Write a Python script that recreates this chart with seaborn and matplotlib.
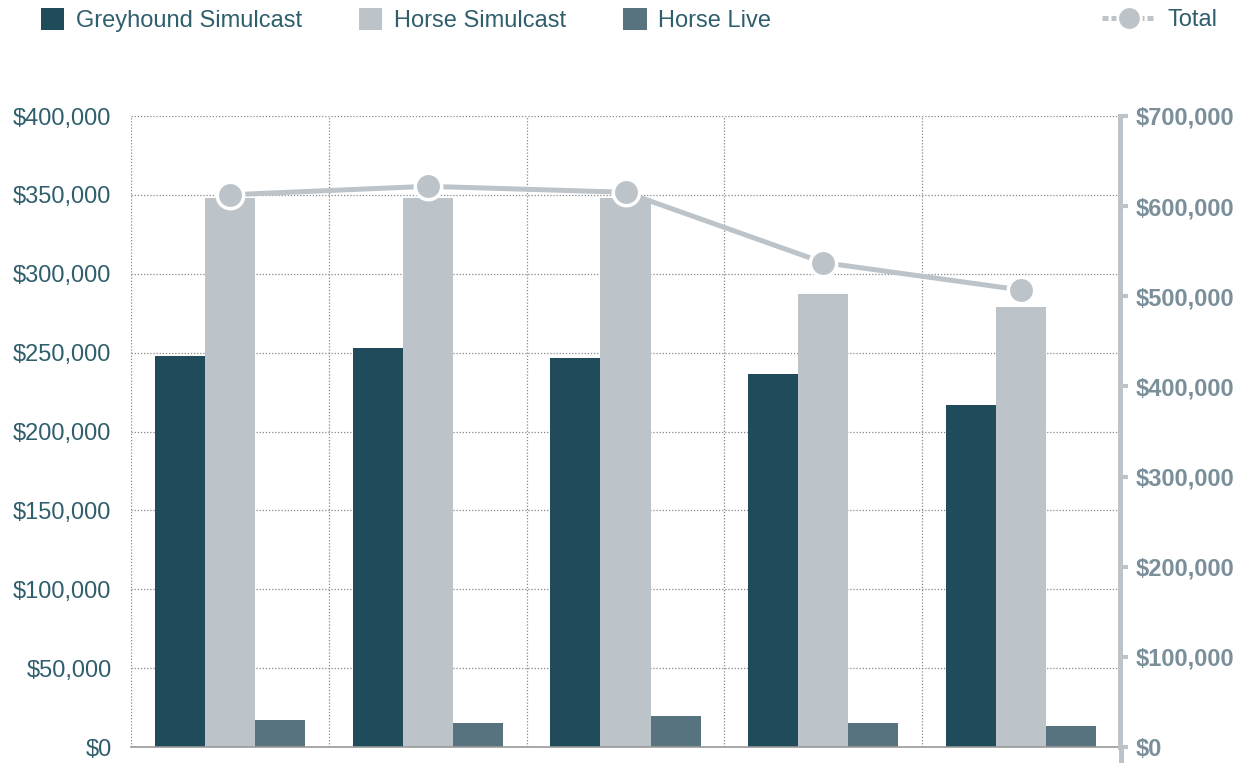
import numpy as np
import pandas as pd
import matplotlib.pyplot as plt
import seaborn as sns
from matplotlib.patches import Patch
from matplotlib.lines import Line2D
from matplotlib.ticker import FuncFormatter

# values
periods = ['P1', 'P2', 'P3', 'P4', 'P5']
greyhound_simulcast = [248000, 253000, 246600, 236500, 216800]
horse_simulcast = [348000, 348000, 348000, 287200, 278900]
horse_live = [17100, 15000, 19500, 15000, 13100]
total = [612600, 622000, 615400, 537400, 507000]

series_names = ['Greyhound Simulcast', 'Horse Simulcast', 'Horse Live']
series_colors = ['#1f4b5a', '#bcc4ca', '#56737f']
line_color = '#bcc4ca'

left_ticks = list(range(0, 400001, 50000))
right_ticks = list(range(0, 700001, 100000))

df = pd.DataFrame({
    'period': periods * 3,
    'series': np.repeat(series_names, len(periods)),
    'amount': greyhound_simulcast + horse_simulcast + horse_live,
})

sns.set_style('white')
plt.rcParams['font.family'] = ['Liberation Sans', 'DejaVu Sans']

fig = plt.figure(figsize=(12.49, 7.63), dpi=100)
ax = fig.add_axes([131 / 1249, 1 - 747 / 763, (1120 - 131) / 1249, (747 - 116) / 763])

sns.barplot(data=df, x='period', y='amount', hue='series', hue_order=series_names,
            palette=series_colors, width=0.76, saturation=1, errorbar=None,
            legend=False, linewidth=0, edgecolor='none', ax=ax)

ax.set_xlim(-0.5, len(periods) - 0.5)
ax.set_ylim(0, 400000)
ax.set_yticks(left_ticks)
ax.yaxis.set_major_formatter(FuncFormatter(lambda v, p: f'${v:,.0f}'))
ax.tick_params(axis='y', length=0, pad=14, labelsize=17, labelcolor='#2f5e6d')
ax.set_xticks(np.arange(len(periods)) - 0.5, minor=True)
ax.tick_params(axis='x', which='major', length=0, labelbottom=False)
ax.tick_params(axis='x', which='minor', length=3, color='#888888', width=1)
ax.set_xlabel('')
ax.set_ylabel('')
ax.set_axisbelow(True)
ax.grid(which='major', axis='y', linestyle=(0, (1, 1.5)), color='#888888', linewidth=0.9)
ax.grid(which='minor', axis='x', linestyle=(0, (1, 1.5)), color='#888888', linewidth=0.9)
for s in ['top', 'left', 'right']:
    ax.spines[s].set_visible(False)
ax.spines['bottom'].set_linestyle((0, (1, 1)))
ax.spines['bottom'].set_color('#999999')
ax.spines['bottom'].set_linewidth(1.2)

# total on the right axis
ax2 = ax.twinx()
ax2.plot(np.arange(len(periods)), total, color=line_color, linewidth=3.6,
         marker='o', markersize=19, markerfacecolor=line_color,
         markeredgecolor='white', markeredgewidth=2.5, zorder=5)
ax2.set_ylim(0, 700000)
ax2.set_yticks(right_ticks)
ax2.yaxis.set_major_formatter(FuncFormatter(lambda v, p: f'${v:,.0f}'))
ax2.tick_params(axis='y', length=6, width=3, color=line_color, pad=5,
                labelsize=17, labelcolor='#7a8f99')
for lbl in ax2.get_yticklabels():
    lbl.set_fontweight('bold')
ax2.grid(False)
for s in ['top', 'left', 'bottom']:
    ax2.spines[s].set_visible(False)
ax2.spines['right'].set_color(line_color)
ax2.spines['right'].set_linewidth(3.6)
# the right axis line runs down to the bottom edge
fig.add_artist(Line2D([1121 / 1249, 1121 / 1249], [0, 1 - 747 / 763],
                      transform=fig.transFigure, color=line_color, linewidth=3.6))

# legends
bar_handles = [Patch(facecolor=c, edgecolor='none') for c in series_colors]
fig.legend(bar_handles, series_names, loc='center left',
           bbox_to_anchor=(0.0155, 0.974), ncol=3, frameon=False,
           fontsize=17, handlelength=1.0, handleheight=1.1,
           handletextpad=0.5, columnspacing=2.4, labelcolor='#2f5e6d')
line_handle = Line2D([], [], color=line_color, linewidth=3.6, linestyle=(0, (1.2, 0.6)),
                     marker='o', markersize=17, markerfacecolor=line_color,
                     markeredgecolor='white', markeredgewidth=2)
fig.legend([line_handle], ['Total'], loc='center right',
           bbox_to_anchor=(0.992, 0.974), frameon=False, fontsize=17,
           handlelength=2.3, handletextpad=0.5, labelcolor='#2f5e6d')

fig.savefig('out.png', dpi=100)
